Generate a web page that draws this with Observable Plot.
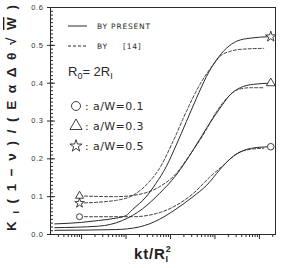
<!DOCTYPE html>
<html>
<head>
<meta charset="utf-8">
<script src="https://cdn.jsdelivr.net/npm/d3@7"></script>
<script src="https://cdn.jsdelivr.net/npm/@observablehq/plot@0.6"></script>
<style>
  html, body { margin: 0; padding: 0; background: #fff; }
  #chart svg { display: block; }
  #chart [aria-label="x-axis tick label"] text,
  #chart [aria-label="y-axis tick label"] text { letter-spacing: 0.6px; }
</style>
</head>
<body>
<div id="chart"></div>
<script>
// Normalised stress intensity factor K_I(1-ν)/(Eα Δθ √W) versus kt/R_I², hollow cylinder with R0 = 2 R_I

const crackRatios = ["0.1", "0.3", "0.5"];
const ratioSymbols = ["circle", "triangle", "star"];

// present solution (solid lines), pairs of [kt/R_I², K]
const present01 = [[2.5e-5, 0.011], [5.8e-4, 0.013], [2e-3, 0.020], [5.6e-3, 0.040], [0.0125, 0.065],
  [0.0322, 0.100], [0.065, 0.130], [0.13, 0.172], [0.22, 0.200], [0.44, 0.222], [0.89, 0.230], [1.8, 0.232]];
const present03 = [[2.5e-5, 0.018], [2.4e-4, 0.022], [8.3e-4, 0.037], [2.35e-3, 0.068], [5.6e-3, 0.108],
  [0.0134, 0.157], [0.0322, 0.223], [0.0647, 0.281], [0.13, 0.334], [0.219, 0.369], [0.37, 0.388], [0.74, 0.397], [1.8, 0.400]];
const present05 = [[2.5e-5, 0.028], [1e-4, 0.032], [2.4e-4, 0.037], [5.8e-4, 0.043], [1e-3, 0.050],
  [1.4e-3, 0.066], [2.8e-3, 0.099], [4.7e-3, 0.135], [8e-3, 0.179], [0.0134, 0.236], [0.0227, 0.298],
  [0.0383, 0.360], [0.0647, 0.418], [0.109, 0.462], [0.184, 0.493], [0.31, 0.511], [0.62, 0.519], [1.8, 0.523]];

// solution of ref. [14] (dashed lines)
const ref01 = [[9e-5, 0.047], [1.4e-3, 0.047], [4.7e-3, 0.055], [0.0134, 0.077], [0.0322, 0.108],
  [0.0769, 0.152], [0.155, 0.183], [0.31, 0.214], [0.62, 0.225], [1.25, 0.228]];
const ref03 = [[9e-5, 0.102], [5.8e-4, 0.100], [2.35e-3, 0.108], [5.6e-3, 0.126], [0.0134, 0.161],
  [0.027, 0.210], [0.0543, 0.263], [0.109, 0.325], [0.184, 0.360], [0.31, 0.382], [0.62, 0.388], [1.25, 0.388]];
const ref05 = [[9e-5, 0.083], [5.8e-4, 0.090], [1.66e-3, 0.108], [3.3e-3, 0.139], [5.6e-3, 0.174],
  [0.0113, 0.245], [0.0227, 0.325], [0.0456, 0.396], [0.0916, 0.449], [0.13, 0.471], [0.219, 0.484],
  [0.44, 0.490], [1.25, 0.492]];

const tTicks = [1e-4, 1e-3, 1e-2, 1e-1, 1];
const tTickLabels = ["0.0001", "0.001", "0.01", "0.1", "1"];
const kTicks = [0, 0.1, 0.2, 0.3, 0.4, 0.5, 0.6];

const tDomain = [2e-5, 2.3];
const tMinor = d3.range(-5, 1)
  .flatMap(e => d3.range(2, 10).map(m => m * 10 ** e))
  .filter(v => v > tDomain[0] && v < tDomain[1]);
const kMinor = d3.range(0, 61).map(i => i / 100);

const toRows = (pairs, ratio, source) => pairs.map(([t, k]) => ({t, k, ratio, source}));
const presentRows = [present01, present03, present05].flatMap((p, i) => toRows(p, crackRatios[i], "present"));
const refRows = [ref01, ref03, ref05].flatMap((p, i) => toRows(p, crackRatios[i], "ref14"));

// symbols sit at the end of each present curve and at the start of each [14] curve
const presentEnds = [present01, present03, present05].map((p, i) => ({t: p[p.length - 1][0], k: p[p.length - 1][1], ratio: crackRatios[i]}));
const refStarts = [ref01, ref03, ref05].map((p, i) => ({t: p[0][0], k: p[0][1], ratio: crackRatios[i]}));

const ink = "#2a2a2a";

const chart = Plot.plot({
  width: 293,
  height: 268,
  marginLeft: 50,
  marginRight: 18,
  marginTop: 7,
  marginBottom: 34,
  style: {fontFamily: "'Liberation Sans', Arial, sans-serif", fontSize: "7.5px", color: "#333", background: "#fff", overflow: "visible"},
  x: {type: "log", domain: tDomain},
  y: {domain: [0, 0.6]},
  symbol: {domain: crackRatios, range: ratioSymbols},
  marks: [
    Plot.axisY(kMinor, {tickSize: -3, text: null, label: null, stroke: ink}),
    Plot.axisY(kTicks, {tickSize: 3, tickPadding: 4, tickFormat: d3.format(".1f"), label: null, stroke: ink}),
    Plot.axisY(kTicks, {tickSize: -5, text: null, label: null, stroke: ink}),
    Plot.axisX(tMinor, {tickSize: 3, text: null, label: null, stroke: ink}),
    Plot.axisX(tTicks, {tickSize: 5, tickPadding: 4, tickFormat: (d, i) => tTickLabels[i], label: null, stroke: ink}),
    Plot.frame({stroke: ink}),
    Plot.line(refRows, {x: "t", y: "k", z: "ratio", curve: "monotone-x", stroke: ink, strokeWidth: 0.9, strokeDasharray: "3,2"}),
    Plot.line(presentRows, {x: "t", y: "k", z: "ratio", curve: "monotone-x", stroke: ink, strokeWidth: 1}),
    Plot.dot(presentEnds, {x: "t", y: "k", symbol: "ratio", r: 3.3, fill: "white", stroke: ink, strokeWidth: 0.9}),
    Plot.dot(refStarts, {x: "t", y: "k", symbol: "ratio", r: 3.0, fill: "white", stroke: ink, strokeWidth: 0.9})
  ]
});

document.getElementById("chart").append(chart);

// axis titles and the key, added to the plot's SVG
const svg = d3.select(chart);
const sym = {circle: d3.symbolCircle, triangle: d3.symbolTriangle, star: d3.symbolStar};
const keySymbolRadius = {circle: 4.5, triangle: 4.5, star: 3.8};

const yTitle = svg.append("text")
  .attr("transform", "translate(16,118) rotate(-90)")
  .attr("text-anchor", "middle")
  .attr("font-family", "'Liberation Sans', Arial, sans-serif")
  .attr("font-size", 13.5)
  .attr("font-weight", "bold")
  .attr("fill", "#222")
  .attr("textLength", 226)
  .attr("lengthAdjust", "spacing");
yTitle.append("tspan").text("K");
yTitle.append("tspan").attr("font-size", 9).attr("dy", 3).text("I");
yTitle.append("tspan").attr("dy", -3).text("(1−ν)/(EαΔθ√");
yTitle.append("tspan").attr("text-decoration", "overline").text("W");
yTitle.append("tspan").text(")");

const xTitle = svg.append("text")
  .attr("x", 134).attr("y", 259)
  .attr("text-anchor", "start")
  .attr("font-family", "'Liberation Sans', Arial, sans-serif")
  .attr("font-size", 15)
  .attr("font-weight", "bold")
  .attr("fill", "#222")
  .attr("letter-spacing", 0.8);
xTitle.append("tspan").text("kt/R");
xTitle.append("tspan").attr("font-size", 9).attr("dy", 3).text("I");
xTitle.append("tspan").attr("font-size", 9).attr("dx", -3).attr("dy", -10).text("2");

const key = svg.append("g")
  .attr("text-anchor", "start")
  .attr("font-family", "'DejaVu Sans', sans-serif")
  .attr("fill", "#2a2a2a");

key.append("line").attr("x1", 68).attr("x2", 87).attr("y1", 26).attr("y2", 26).attr("stroke", ink);
key.append("text").attr("x", 97).attr("y", 29).attr("font-size", 7.5).attr("letter-spacing", 0.8).text("BY PRESENT");
key.append("line").attr("x1", 68).attr("x2", 87).attr("y1", 46).attr("y2", 46).attr("stroke", ink).attr("stroke-dasharray", "3,2");
key.append("text").attr("x", 97).attr("y", 49).attr("font-size", 7.5).attr("letter-spacing", 0.8).text("BY");
key.append("text").attr("x", 123).attr("y", 49).attr("font-size", 7.5).attr("letter-spacing", 0.8).text("[14]");

const rText = key.append("text").attr("x", 68).attr("y", 76).attr("font-size", 13).attr("font-family", "'Liberation Sans', Arial, sans-serif");
rText.append("tspan").text("R");
rText.append("tspan").attr("font-size", 9).attr("dy", 3).text("0");
rText.append("tspan").attr("dy", -3).text("= 2R");
rText.append("tspan").attr("font-size", 9).attr("dy", 3).text("I");

crackRatios.forEach((ratio, i) => {
  const cy = 106 + i * 20;
  const r = keySymbolRadius[ratioSymbols[i]];
  key.append("path")
    .attr("transform", `translate(76,${cy})`)
    .attr("d", d3.symbol(sym[ratioSymbols[i]], Math.PI * r * r)())
    .attr("fill", "none").attr("stroke", ink).attr("stroke-width", 0.9);
  key.append("text").attr("x", 85).attr("y", cy + 4).attr("font-size", 11).text(":");
  key.append("text").attr("x", 93).attr("y", cy + 4).attr("font-size", 11).attr("letter-spacing", 0.4).text(`a/W=${ratio}`);
});
</script>
</body>
</html>
